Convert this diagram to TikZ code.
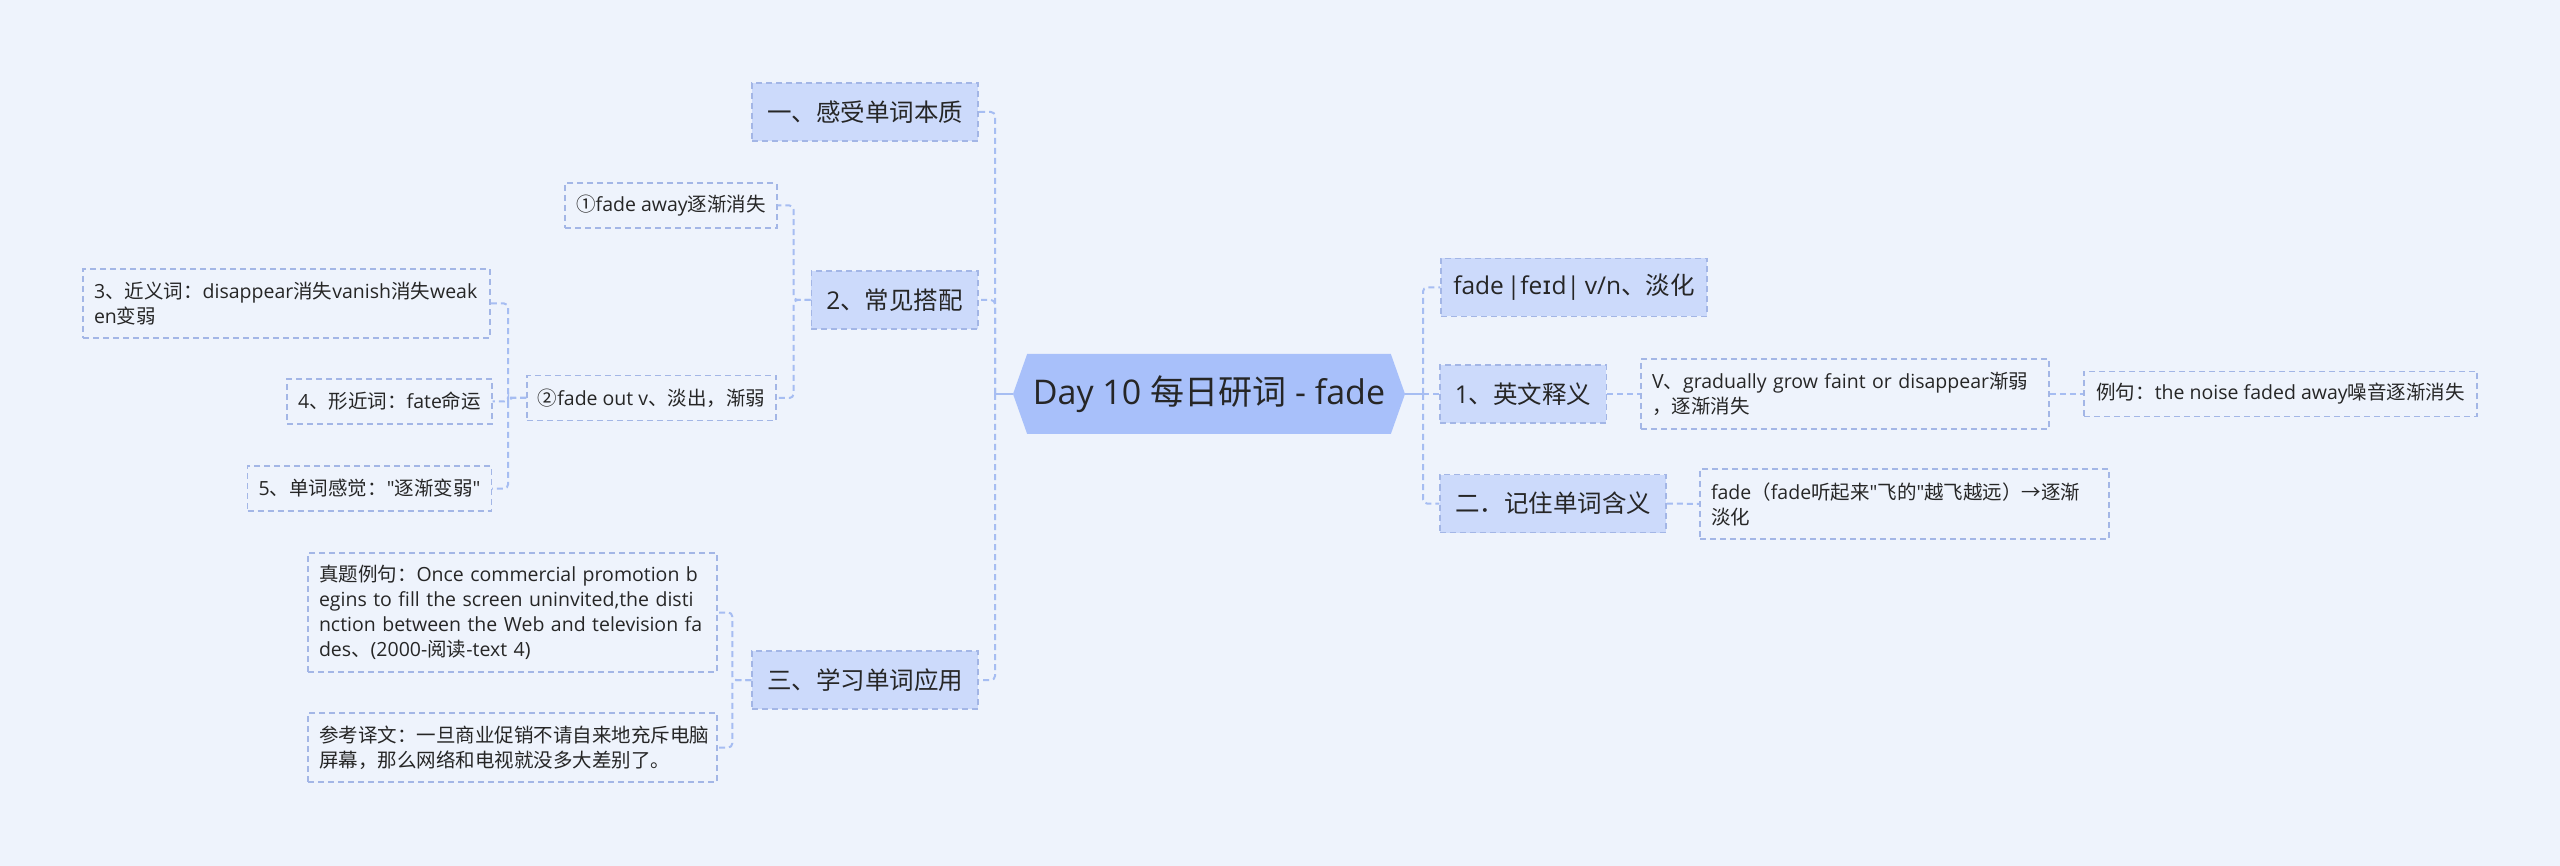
\documentclass[tikz,border=0pt]{standalone}
\usepackage{fontspec}
\setmainfont{Open Sans}
\newfontfamily\latfont{Open Sans}
\newfontfamily\cjkfont{Noto Sans CJK SC}
\newfontfamily\ipafont{DejaVu Sans}
\usetikzlibrary{shapes.symbols}
\XeTeXinterchartokenstate=1
\newXeTeXintercharclass\cjkcls
\makeatletter
\def\setcjkrange#1#2{\count@=#1\relax\loop\XeTeXcharclass\count@=\cjkcls\ifnum\count@<#2\relax\advance\count@ by 1\repeat}
\setcjkrange{"4E00}{"9FFF}
\setcjkrange{"3000}{"303F}
\setcjkrange{"FF00}{"FFEF}
\setcjkrange{"2460}{"2473}
\setcjkrange{"2190}{"2193}
\makeatother
\XeTeXinterchartoks 0 \cjkcls = {\cjkfont}
\XeTeXinterchartoks 4095 \cjkcls = {\cjkfont}
\XeTeXinterchartoks \cjkcls 0 = {\latfont}
\XeTeXinterchartoks \cjkcls 4095 = {\latfont}
\definecolor{bgcol}{HTML}{EEF3FC}
\definecolor{rootfill}{HTML}{A8C0FA}
\definecolor{lonefill}{HTML}{CCDAFB}
\definecolor{boxcol}{HTML}{A3B6E6}
\definecolor{conncol}{HTML}{A6BDF2}
\definecolor{textc}{HTML}{262626}
\tikzset{
  rootnode/.style={shape=signal, signal to=west and east, signal pointer angle=141,
    fill=rootfill, minimum width=392, minimum height=80, inner sep=0,
    font=\fontsize{34}{40}\selectfont, text=textc},
  lone/.style={draw=boxcol, fill=lonefill, line width=1.5, dash pattern=on 6pt off 4pt,
    inner xsep=15, inner ysep=0, minimum height=58,
    font=\fontsize{24.5}{30}\selectfont, text=textc},
  ltwo/.style={draw=boxcol, line width=1.5, dash pattern=on 6pt off 4pt,
    inner xsep=11, inner ysep=0, align=left,
    font=\fontsize{19.5}{25}\selectfont, text=textc},
  conn/.style={draw=conncol, line width=2, dash pattern=on 6pt off 4pt, rounded corners=4},
  stub/.style={draw=conncol, line width=2.5}
}
\begin{document}
\begin{tikzpicture}[x=1pt,y=-1pt]
\useasboundingbox (0,0) rectangle (2560,866);
\fill[bgcol] (0,0) rectangle (2560,866);
% root
\node[rootnode] (root) at (1209,394) {Day 10 每日研词 - fade};
% left level 1
\node[lone, minimum width=224] (a1) at (865,112) {一、感受单词本质};
\node[lone, minimum width=165] (a2) at (894.5,300) {2、常见搭配};
\node[lone, minimum width=224] (a3) at (865,680) {三、学习单词应用};
% children of a2
\node[ltwo, minimum width=210, minimum height=45] (b1) at (671,205.5) {①fade away逐渐消失};
\node[ltwo, minimum width=249, minimum height=45] (b2) at (651.5,398) {②fade out v、淡出，渐弱};
% children of b2
\node[ltwo, text width=385, minimum height=69] (c1) at (286.5,303.5) {3、近义词：disappear消失vanish消失weak\\en变弱};
\node[ltwo, minimum width=201, minimum height=45] (c2) at (389.5,401.5) {4、形近词：fate命运};
\node[ltwo, minimum width=241, minimum height=45] (c3) at (369.5,488.5) {5、单词感觉："逐渐变弱"};
% children of a3
\node[ltwo, text width=387, minimum height=119] (d1) at (512.5,612.5) {真题例句：Once commercial promotion b\\egins to fill the screen uninvited,the disti\\nction between the Web and television fa\\des、(2000-阅读-text 4)};
\node[ltwo, text width=387, minimum height=69] (d2) at (512.5,747.5) {参考译文：一旦商业促销不请自来地充斥电脑\\屏幕，那么网络和电视就没多大差别了。};
% right level 1
\node[lone, minimum width=266, inner xsep=12] (r1) at (1574,287.5) {fade\hspace{0.12em}|fe{\ipafont ɪ}d|\hspace{0.2em}v/n、淡化};
\node[lone, minimum width=164] (r2) at (1523,394) {1、英文释义};
\node[lone, minimum width=224] (r3) at (1553,503.5) {二．记住单词含义};
% right level 2
\node[ltwo, text width=386, minimum height=70] (s1) at (1845,394) {V、gradually grow faint or disappear渐弱\\，逐渐消失};
\node[ltwo, minimum width=393, minimum height=45] (s2) at (2280.5,394) {例句：the noise faded away噪音逐渐消失};
\node[ltwo, text width=387, minimum height=70] (s3) at (1904.5,504) {fade（fade听起来"飞的"越飞越远）→逐渐\\淡化};
% connectors
\coordinate (lb) at (995,394);
\coordinate (rb) at (1423,394);
\draw[stub] (root.west) -- (lb);
\draw[conn] (lb) |- (a1.east);
\draw[conn] (lb) |- (a2.east);
\draw[conn] (lb) |- (a3.east);
\draw[stub] (root.east) -- (rb);
\draw[conn] (rb) |- (r1.west);
\draw[conn] (rb) -- (r2.west);
\draw[conn] (rb) |- (r3.west);
\draw[conn] (a2.west) -- ++(-17,0) |- (b1.east);
\draw[conn] (a2.west) -- ++(-17,0) |- (b2.east);
\draw[conn] (b2.west) -- ++(-18,0) |- (c1.east);
\draw[conn] (b2.west) -- ++(-18,0) |- (c2.east);
\draw[conn] (b2.west) -- ++(-18,0) |- (c3.east);
\draw[conn] (a3.west) -- ++(-19,0) |- (d1.east);
\draw[conn] (a3.west) -- ++(-19,0) |- (d2.east);
\draw[conn] (r2.east) -- (s1.west);
\draw[conn] (s1.east) -- (s2.west);
\draw[conn] (r3.east) -- (s3.west);
\end{tikzpicture}
\end{document}
